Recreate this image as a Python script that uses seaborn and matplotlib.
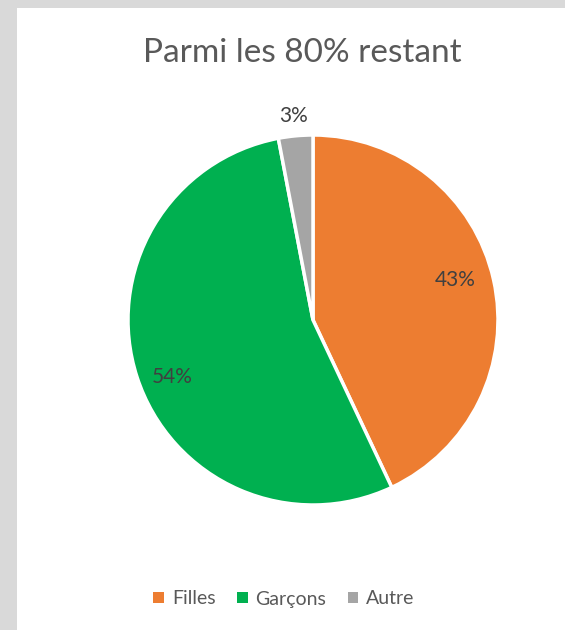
import numpy as np
import matplotlib
matplotlib.use("Agg")
import matplotlib.pyplot as plt
from matplotlib.patches import Rectangle
import seaborn as sns

categories = ["Filles", "Garçons", "Autre"]
values = [43, 54, 3]
pct_labels = ["43%", "54%", "3%"]
title = "Parmi les 80% restant"

sns.set_theme(style="white")
plt.rcParams["font.family"] = ["Lato", "DejaVu Sans"]

colors = sns.color_palette(["#ED7D31", "#00B050", "#A5A5A5"])

W, H = 565, 630
fig = plt.figure(figsize=(W / 100, H / 100), dpi=100, facecolor="#D9D9D9")
fig.patches.append(Rectangle((17 / W, 0), 1, (H - 8) / H, transform=fig.transFigure,
                             facecolor="white", edgecolor="none", zorder=-10))

cx, cy, r = 313, 320, 185
ax = fig.add_axes([(cx - r) / W, (H - cy - r) / H, 2 * r / W, 2 * r / H])
ax.set_zorder(5)
wedges, _ = ax.pie(values, colors=colors, startangle=90, counterclock=False,
                   wedgeprops=dict(edgecolor="white", linewidth=2.5))
ax.set_xlim(-1, 1)
ax.set_ylim(-1, 1)
ax.set_aspect("equal")
ax.axis("off")

# label placement (best-fit style): radial distance and angular shift per label
dists = [0.80, 0.82, 1.11]
shifts = [3.0, 4.0, 0.0]
for w, lab, d, s in zip(wedges, pct_labels, dists, shifts):
    ang = np.deg2rad((w.theta1 + w.theta2) / 2 + s)
    ax.text(d * np.cos(ang), d * np.sin(ang), lab, ha="center", va="center",
            fontsize=15, color="#404040")

fig.text(302 / W, 1 - 53 / H, title, ha="center", va="center", fontsize=24, color="#595959")

handles = [Rectangle((0, 0), 1, 1, facecolor=c, edgecolor="none") for c in colors]
fig.legend(handles, categories, loc="center", bbox_to_anchor=(284 / W, 1 - 599 / H), ncol=3,
           frameon=False, fontsize=14, labelcolor="#595959", handlelength=0.55, handleheight=0.55,
           handletextpad=0.4, columnspacing=1.1)

fig.savefig("out.png", dpi=100, facecolor=fig.get_facecolor())
